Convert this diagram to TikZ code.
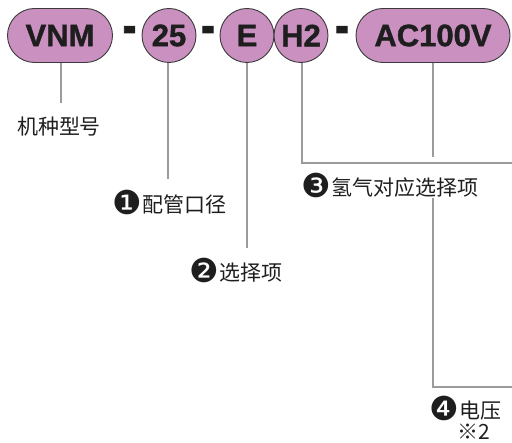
\documentclass[tikz,border=0pt]{standalone}
\usepackage{fontspec}
\setmainfont{Liberation Sans}
\newfontfamily\boxfont[FakeBold=1.2]{Liberation Sans Bold}
\newfontfamily\dashfont[FakeBold=2]{Liberation Sans Bold}
\newfontfamily\cjk{Noto Sans CJK SC}
\newfontfamily\dv{DejaVu Sans}
\newcommand\cnum[1]{{\dv\fontsize{33}{33}\selectfont\raisebox{-1.5pt}{#1}}\hspace{1pt}}
\newcommand\heavydash{\scalebox{1.35}[1.8]{-}}
\definecolor{pinkfill}{RGB}{201,144,192}
\definecolor{edgegray}{RGB}{58,58,58}
\definecolor{linegray}{RGB}{155,155,155}
\definecolor{txt}{RGB}{30,30,30}
\begin{document}
\begin{tikzpicture}[x=1pt,y=-1pt,
  codebox/.style={draw=edgegray, line width=0.9pt, fill=pinkfill, text=txt,
    font=\boxfont\fontsize{31}{31}\selectfont, inner sep=0pt, minimum height=54pt},
  pill/.style={codebox, rectangle, rounded corners=27pt},
  disc/.style={codebox, circle, minimum size=54pt},
  sep/.style={font=\dashfont\fontsize{30}{30}\selectfont, text=txt, inner sep=0pt},
  lbl/.style={font=\cjk\fontsize{21}{21}\selectfont, text=txt, inner sep=0pt},
  conn/.style={draw=linegray, line width=1.8pt}]
\useasboundingbox (0,0) rectangle (512,443);
% code parts
\node[pill, minimum width=105pt] (vnm) at (60,35.5) {VNM};
\node[sep] (d1) at (129.5,35) {\heavydash};
\node[disc] (n25) at (169,35.5) {25};
\node[sep] (d2) at (208,35) {\heavydash};
\node[disc] (nE) at (247,35.5) {E};
\node[disc] (nH) at (301,35.5) {H2};
\node[sep] (d3) at (342,35) {\heavydash};
\node[pill, minimum width=154pt] (ac) at (433,35.5) {AC100V};
% labels
\node[lbl] (l0) at (59,127) {机种型号};
\node[lbl, anchor=west] (l1) at (112,202) {\cnum{❶}配管口径};
\node[lbl, anchor=west] (l2) at (189,270) {\cnum{❷}选择项};
\node[lbl, anchor=west] (l3) at (301,185) {\cnum{❸}氢气对应选择项};
\node[lbl, anchor=west] (l4) at (429,408) {\cnum{❹}电压};
\node[lbl, anchor=base west] (l5) at (457,440) {※2};
% connector end points
\coordinate (e0) at (61,103);
\coordinate (e1) at (168,179);
\coordinate (e2) at (247,248);
\coordinate (k3) at (302,163);
\coordinate (f3) at (512,163);
\coordinate (g4) at (433,157);
\coordinate (h4) at (433,198);
\coordinate (k4) at (433,387);
\coordinate (f4) at (512,387);
% connectors
\draw[conn] (vnm.south -| e0) -- (e0);
\draw[conn] (n25.south -| e1) -- (e1);
\draw[conn] (nE.south -| e2) -- (e2);
\draw[conn] (nH.south -| k3) -- (k3) -- (f3);
\draw[conn] (ac.south -| g4) -- (g4);
\draw[conn] (h4) -- (k4) -- (f4);
\end{tikzpicture}
\end{document}
